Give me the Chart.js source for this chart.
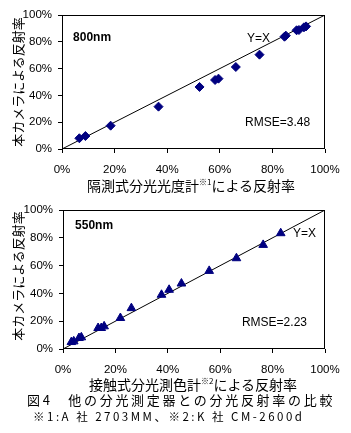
<!DOCTYPE html>
<html>
<head>
<meta charset="utf-8">
<script src="https://cdn.jsdelivr.net/npm/chart.js@4"></script>
<style>
  body { margin: 0; background: #fff; width: 351px; height: 433px; position: relative; overflow: hidden;
         font-family: "Noto Sans CJK JP", "Liberation Sans", sans-serif; color: #000; }
  canvas { position: absolute; left: 0; }
  #c1 { top: 0; }
  #c2 { top: 195px; }
  .txt { position: absolute; white-space: nowrap; line-height: 1; }
  .ytitle { font-size: 13px; transform: translate(-50%, -50%) rotate(-90deg); }
  .xtitle { font-size: 14px; transform: translateX(-50%); }
  sup { font-size: 8px; vertical-align: 6px; }
</style>
</head>
<body>
<canvas id="c1" width="351" height="178"></canvas>
<canvas id="c2" width="351" height="183"></canvas>

<div class="txt ytitle" style="left:17px; top:82px;">本カメラによる反射率</div>
<div class="txt xtitle" style="left:191px; top:178px;">隔測式分光光度計<sup>※1</sup>による反射率</div>
<div class="txt ytitle" style="left:17px; top:276px;">本カメラによる反射率</div>
<div class="txt xtitle" style="left:193px; top:377px;">接触式分光測色計<sup>※2</sup>による反射率</div>
<div class="txt" style="left:27px; top:393px; font-size:13px; letter-spacing:2.7px;">図4　他の分光測定器との分光反射率の比較</div>
<div class="txt" style="left:33px; top:411px; font-size:11.5px; letter-spacing:2.5px;">※1:A 社 2703MM、※2:K 社 CM-2600d</div>

<script>
// 800nm: 隔測式分光光度計 vs カメラ (%)
const x800 = [6.6, 8.9, 18.5, 36.7, 52.3, 58.2, 59.5, 66.1, 75.1, 84.6, 85.1, 89.2, 90.1, 92.0, 92.8];
const y800 = [8.0, 9.7, 17.4, 31.6, 46.3, 51.5, 52.5, 61.2, 70.4, 83.8, 84.6, 88.6, 88.8, 90.8, 91.5];

// 550nm: 接触式分光測色計 vs カメラ (%)
const x550 = [3.2, 4.1, 6.1, 7.0, 13.4, 14.6, 15.7, 21.9, 26.1, 37.6, 40.5, 45.2, 55.8, 66.2, 76.4, 83.1];
const y550 = [5.0, 5.5, 7.9, 8.4, 15.1, 15.1, 16.3, 22.3, 29.4, 39.0, 42.6, 47.1, 56.2, 65.3, 74.9, 83.3];

const tickValues = [0, 20, 40, 60, 80, 100];
const identityLine = [0, 100];

const navy = '#000080';
const tickFont = { family: 'Liberation Sans', size: 11.5 };

// box around the plot area + text notes placed on the data scales
const boxAndNotes = {
    id: 'boxAndNotes',
    afterDraw(chart, args, opts) {
        const ctx = chart.ctx;
        const a = chart.chartArea;
        ctx.save();
        ctx.strokeStyle = '#000';
        ctx.lineWidth = 1;
        ctx.strokeRect(Math.round(a.left) + 0.5, Math.round(a.top) + 0.5,
            Math.round(a.right - a.left) - 1, Math.round(a.bottom - a.top) - 1);
        ctx.textBaseline = 'middle';
        ctx.textAlign = 'left';
        ctx.fillStyle = '#000';
        opts.notes.forEach(n => {
            ctx.font = n.font;
            ctx.fillText(n.text, chart.scales.x.getPixelForValue(n.x), chart.scales.y.getPixelForValue(n.y));
        });
        ctx.restore();
    }
};

function makeChart(id, xs, ys, marker, notes, leftWidth) {
    const pts = xs.map((x, i) => ({ x: x, y: ys[i] }));
    return new Chart(document.getElementById(id), {
        type: 'scatter',
        data: {
            datasets: [
                {
                    type: 'line',
                    data: identityLine.map(v => ({ x: v, y: v })),
                    borderColor: '#000',
                    borderWidth: 1,
                    pointRadius: 0,
                    order: 2
                },
                {
                    data: pts,
                    pointStyle: marker,
                    pointRadius: marker === 'triangle' ? 5 : 4.5,
                    backgroundColor: navy,
                    borderColor: navy,
                    borderWidth: 1,
                    order: 1
                }
            ]
        },
        options: {
            responsive: false,
            animation: false,
            layout: { padding: { left: 0, right: 26, top: 15, bottom: 0 } },
            plugins: {
                legend: { display: false },
                tooltip: { enabled: false },
                boxAndNotes: { notes: notes }
            },
            scales: {
                x: {
                    type: 'linear', min: 0, max: 100,
                    afterBuildTicks: s => { s.ticks = tickValues.map(v => ({ value: v })); },
                    afterFit: s => { s.height = 29; },
                    ticks: { callback: v => v + '%', color: '#000', font: tickFont, padding: 10, maxRotation: 0 },
                    grid: { drawOnChartArea: false, drawTicks: true, tickLength: 4, color: '#000' },
                    border: { display: false }
                },
                y: {
                    type: 'linear', min: 0, max: 100,
                    afterBuildTicks: s => { s.ticks = tickValues.map(v => ({ value: v })); },
                    afterFit: s => { s.width = leftWidth; },
                    ticks: { callback: v => v + '%', color: '#000', font: tickFont, padding: 6 },
                    grid: { drawOnChartArea: false, drawTicks: true, tickLength: 4, color: '#000' },
                    border: { display: false }
                }
            }
        },
        plugins: [boxAndNotes]
    });
}

makeChart('c1', x800, y800, 'rectRot', [
    { text: '800nm', x: 4.2, y: 82.8, font: 'bold 12px "Liberation Sans"' },
    { text: 'Y=X', x: 70.3, y: 82.1, font: '12px "Liberation Sans"' },
    { text: 'RMSE=3.48', x: 69.6, y: 20, font: '12px "Liberation Sans"' }
], 62);

makeChart('c2', x550, y550, 'triangle', [
    { text: '550nm', x: 4.6, y: 88.5, font: 'bold 12px "Liberation Sans"' },
    { text: 'Y=X', x: 87.8, y: 82.7, font: '12px "Liberation Sans"' },
    { text: 'RMSE=2.23', x: 68.3, y: 18.7, font: '12px "Liberation Sans"' }
], 63);
</script>
</body>
</html>
